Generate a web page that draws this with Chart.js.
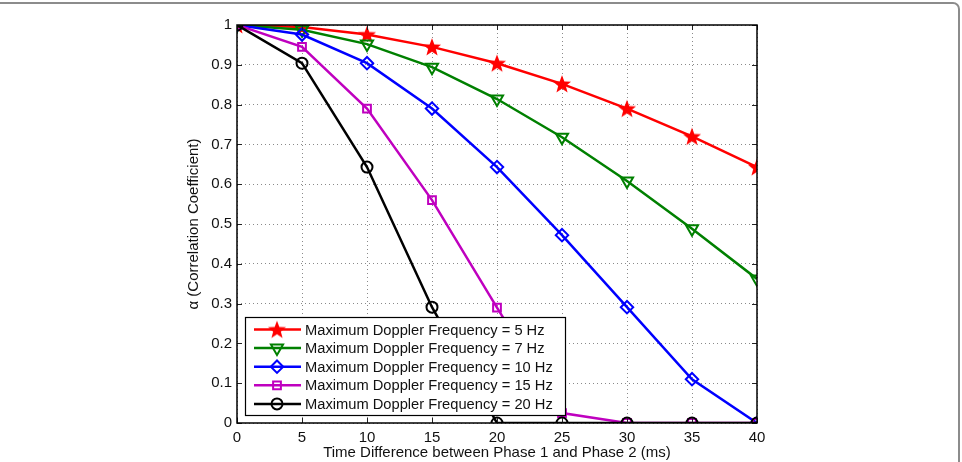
<!DOCTYPE html>
<html>
<head>
<meta charset="utf-8">
<script src="https://cdn.jsdelivr.net/npm/chart.js@4.4.1/dist/chart.umd.min.js"></script>
<style>
  html, body { margin: 0; padding: 0; background: #fff; }
  #wrap { position: relative; width: 962px; height: 462px; overflow: hidden; }
  #frame { position: absolute; left: -12px; top: 2px; width: 972px; height: 520px;
           border: 2px solid #8c8c8c; border-radius: 7px; box-sizing: border-box; }
  canvas { position: absolute; left: 0; top: 0; }
</style>
</head>
<body>
<div id="wrap">
  <div id="frame"></div>
  <canvas id="myChart" width="962" height="462"></canvas>
</div>
<script>
// time difference (ms)
const timeMs = [0, 5, 10, 15, 20, 25, 30, 35, 40];
// correlation coefficient per max doppler frequency
const fd5  = [1, 0.995, 0.976, 0.945, 0.904, 0.852, 0.790, 0.720, 0.643];
const fd7  = [1, 0.988, 0.952, 0.894, 0.814, 0.718, 0.608, 0.488, 0.362];
const fd10 = [1, 0.976, 0.904, 0.790, 0.643, 0.472, 0.291, 0.110, 0];
const fd15 = [1, 0.945, 0.790, 0.560, 0.290, 0.025, 0, 0, 0];
const fd20 = [1, 0.904, 0.643, 0.291, 0, 0, 0, 0, 0];
const seriesLabels = [
  'Maximum Doppler Frequency = 5 Hz',
  'Maximum Doppler Frequency = 7 Hz',
  'Maximum Doppler Frequency = 10 Hz',
  'Maximum Doppler Frequency = 15 Hz',
  'Maximum Doppler Frequency = 20 Hz'
];

const FONT = 'Liberation Sans, Arial, Helvetica, sans-serif';

// filled 5 point star marker like matlab 'p'
function starMarker(color) {
  const c = document.createElement('canvas');
  c.width = 20; c.height = 20;
  const g = c.getContext('2d');
  g.beginPath();
  for (let i = 0; i < 10; i++) {
    const r = i % 2 === 0 ? 9.5 : 4;
    const a = -Math.PI / 2 + i * Math.PI / 5;
    const px = 10 + r * Math.cos(a), py = 10.8 + r * Math.sin(a);
    if (i === 0) g.moveTo(px, py); else g.lineTo(px, py);
  }
  g.closePath();
  g.fillStyle = color;
  g.fill();
  return c;
}

function toPoints(arr) {
  return arr.map((v, i) => ({x: timeMs[i], y: v}));
}

function makeSet(label, data, color, style, radius, rot, order) {
  return {
    label: label,
    data: toPoints(data),
    borderColor: color,
    backgroundColor: 'rgba(0,0,0,0)',
    borderWidth: 2.5,
    pointStyle: style,
    pointRadius: radius,
    pointRotation: rot,
    pointBorderColor: color,
    pointBackgroundColor: 'rgba(0,0,0,0)',
    pointBorderWidth: 2,
    tension: 0,
    order: order
  };
}

// box + matlab style inner ticks
const boxPlugin = {
  id: 'box',
  afterDatasetsDraw(chart) {
    const {ctx, chartArea: a, scales} = chart;
    ctx.save();
    ctx.strokeStyle = '#222';
    ctx.lineWidth = 1;
    scales.y.ticks.forEach(t => {
      const y = Math.round(scales.y.getPixelForValue(t.value)) + 0.5;
      ctx.beginPath();
      ctx.moveTo(a.left, y); ctx.lineTo(a.left + 5, y);
      ctx.moveTo(a.right, y); ctx.lineTo(a.right - 5, y);
      ctx.stroke();
    });
    scales.x.ticks.forEach(t => {
      const x = Math.round(scales.x.getPixelForValue(t.value)) + 0.5;
      ctx.beginPath();
      ctx.moveTo(x, a.bottom); ctx.lineTo(x, a.bottom - 5);
      ctx.moveTo(x, a.top); ctx.lineTo(x, a.top + 5);
      ctx.stroke();
    });
    ctx.strokeStyle = '#000';
    ctx.lineWidth = 1.5;
    ctx.strokeRect(a.left, a.top, a.right - a.left, a.bottom - a.top);
    ctx.restore();
  }
};

// legend drawn inside the plot, lower left
const innerLegend = {
  id: 'innerLegend',
  afterDraw(chart) {
    const {ctx} = chart;
    const x0 = 245, y0 = 317, w = 320, h = 98;
    ctx.save();
    ctx.fillStyle = '#fff';
    ctx.fillRect(x0, y0, w, h);
    ctx.strokeStyle = '#000';
    ctx.lineWidth = 1.2;
    ctx.strokeRect(x0 + 0.5, y0 + 0.5, w, h);
    ctx.font = '14.7px ' + FONT;
    ctx.textBaseline = 'middle';
    chart.data.datasets.forEach((ds, i) => {
      const y = y0 + 12.5 + i * 18.6;
      ctx.strokeStyle = ds.borderColor;
      ctx.lineWidth = 2.5;
      ctx.beginPath();
      ctx.moveTo(x0 + 9, y); ctx.lineTo(x0 + 56, y);
      ctx.stroke();
      ctx.fillStyle = 'rgba(0,0,0,0)';
      ctx.lineWidth = 2;
      Chart.helpers.drawPoint(ctx, {
        pointStyle: ds.pointStyle, radius: ds.pointRadius,
        rotation: ds.pointRotation, borderWidth: 2
      }, x0 + 32, y);
      ctx.fillStyle = '#111';
      ctx.fillText(ds.label, x0 + 60, y + 1);
    });
    ctx.restore();
  }
};

const ctx = document.getElementById('myChart');

new Chart(ctx, {
  type: 'line',
  data: {
    datasets: [
      makeSet(seriesLabels[0], fd5, '#ff0000', starMarker('#ff0000'), 8, 0, 5),
      makeSet(seriesLabels[1], fd7, '#008000', 'triangle', 7, 180, 4),
      makeSet(seriesLabels[2], fd10, '#0000ff', 'rectRot', 6.2, 0, 3),
      makeSet(seriesLabels[3], fd15, '#bf00bf', 'rect', 5.5, 0, 2),
      makeSet(seriesLabels[4], fd20, '#000000', 'circle', 5.5, 0, 1)
    ]
  },
  options: {
    responsive: false,
    animation: false,
    layout: { padding: { left: 185, right: 205, top: 25, bottom: 0 } },
    plugins: {
      legend: { display: false },
      tooltip: { enabled: false }
    },
    scales: {
      x: {
        type: 'linear',
        min: 0, max: 40,
        ticks: { stepSize: 5, color: '#111', font: { family: FONT, size: 15 }, padding: 6 },
        grid: { color: '#8a8a8a', lineWidth: 1, drawTicks: false },
        border: { display: false, dash: [1, 3] },
        title: {
          display: true,
          text: 'Time Difference between Phase 1 and Phase 2 (ms)',
          color: '#111',
          font: { family: FONT, size: 15 },
          padding: { top: 0, bottom: 0 }
        },
        afterFit(s) { s.height = 39; }
      },
      y: {
        min: 0, max: 1,
        ticks: {
          stepSize: 0.1, color: '#111', font: { family: FONT, size: 15 }, padding: 5,
          callback: v => String(Number(v.toFixed(1)))
        },
        grid: { color: '#8a8a8a', lineWidth: 1, drawTicks: false },
        border: { display: false, dash: [1, 3] },
        title: {
          display: true,
          text: 'α (Correlation Coefficient)',
          color: '#111',
          font: { family: FONT, size: 15 },
          padding: { top: 0, bottom: 0 }
        },
        afterFit(s) { s.width = 52; }
      }
    }
  },
  plugins: [boxPlugin, innerLegend]
});
</script>
</body>
</html>
